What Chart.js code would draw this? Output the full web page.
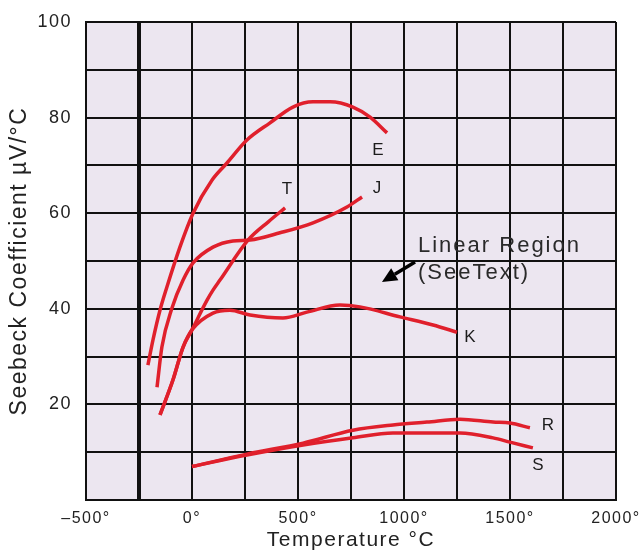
<!DOCTYPE html>
<html>
<head>
<meta charset="utf-8">
<script src="https://cdn.jsdelivr.net/npm/chart.js@4.4.0/dist/chart.umd.min.js"></script>
<style>
  html, body { margin: 0; padding: 0; background: #fff; }
</style>
</head>
<body>
<canvas id="seebeck" width="643" height="553"></canvas>
<script>
// values: temperature (°C) vs Seebeck coefficient (µV/°C)
const eTemp = [-208, -184, -151, -118, -57, 5, 94, 165, 259, 368, 476, 571, 651, 759, 840, 920];
const eCoef = [28.2, 33.5, 39.7, 44.6, 52.9, 60.0, 66.9, 70.5, 75.3, 78.9, 82.2, 83.3, 83.3, 82.2, 80.1, 76.8];

const jTemp = [-165, -142, -94, -42, 5, 99, 193, 274, 415, 571, 731, 802];
const jCoef = [23.6, 32.0, 40.2, 46.0, 49.6, 52.9, 54.2, 54.4, 55.9, 58.0, 61.3, 63.4];

const tTemp = [-151, -90, -42, 0, 71, 99, 132, 265, 360, 439];
const tCoef = [17.8, 25.1, 32.0, 35.6, 41.8, 43.9, 46.0, 54.4, 58.2, 61.1];

const kTemp = [-151, -90, -42, 0, 99, 179, 274, 429, 542, 698, 792, 981, 1137, 1250];
const kCoef = [17.8, 25.1, 32.0, 35.6, 39.1, 39.7, 38.7, 38.1, 39.3, 40.8, 40.4, 38.3, 36.6, 35.1];

const rTemp = [0, 259, 524, 759, 948, 1108, 1264, 1420, 1500, 1594];
const rCoef = [7.0, 9.6, 11.9, 14.6, 15.7, 16.3, 16.9, 16.3, 16.1, 15.1];

const sTemp = [0, 259, 524, 759, 948, 1108, 1264, 1420, 1500, 1608];
const sCoef = [7.0, 9.4, 11.5, 13.0, 14.0, 14.0, 14.0, 13.0, 12.1, 10.9];

// curve names, placed in data units next to each curve end
const curveNames = [
    { text: 'E', x: 877, y: 73.2 },
    { text: 'T', x: 448, y: 64.9 },
    { text: 'J', x: 873, y: 65.3 },
    { text: 'K', x: 1311, y: 34.1 },
    { text: 'R', x: 1679, y: 15.7 },
    { text: 'S', x: 1632, y: 7.3 },
];
const noteLines = ['Linear Region', '(SeeText)'];

const red = '#e0202c';

function toPoints(temps, coefs) {
    return temps.map((t, i) => ({ x: t, y: coefs[i] }));
}

function curve(temps, coefs) {
    return {
        data: toPoints(temps, coefs),
        showLine: true,
        borderColor: red,
        backgroundColor: red,
        borderWidth: 3.5,
        pointRadius: 0,
        cubicInterpolationMode: 'monotone',
    };
}

// wider letters, the original type looks stretched
const spacingPlugin = {
    id: 'spacing',
    beforeUpdate(chart) { chart.ctx.letterSpacing = '1.5px'; },
    beforeLayout(chart) { chart.ctx.letterSpacing = '1.5px'; },
    beforeDraw(chart) {
        const { ctx, chartArea: a } = chart;
        ctx.letterSpacing = '1.5px';
        ctx.save();
        ctx.fillStyle = '#ece6f0';
        ctx.fillRect(a.left, a.top, a.right - a.left, a.bottom - a.top);
        ctx.restore();
    },
};

const labelPlugin = {
    id: 'curveLabels',
    afterDatasetsDraw(chart) {
        const { ctx, scales: { x, y } } = chart;
        ctx.save();
        ctx.fillStyle = '#1c1c1c';
        ctx.textAlign = 'center';
        ctx.textBaseline = 'middle';
        ctx.letterSpacing = '0px';
        ctx.font = '17px "Liberation Sans", Arial, sans-serif';
        curveNames.forEach(l => ctx.fillText(l.text, x.getPixelForValue(l.x), y.getPixelForValue(l.y)));

        // note about the linear region
        ctx.textAlign = 'left';
        ctx.font = '22px "Liberation Sans", Arial, sans-serif';
        ctx.letterSpacing = '2px';
        ctx.fillStyle = '#2a2a2a';
        ctx.fillText(noteLines[0], x.getPixelForValue(1066), y.getPixelForValue(53.1));
        ctx.fillText(noteLines[1], x.getPixelForValue(1066), y.getPixelForValue(47.5));

        // arrow pointing down-left
        const tx = x.getPixelForValue(1052), ty = y.getPixelForValue(49.8);
        const hx = x.getPixelForValue(896), hy = y.getPixelForValue(45.6);
        const ang = Math.atan2(hy - ty, hx - tx);
        const len = 15, half = 7;
        const bx = hx - len * Math.cos(ang), by = hy - len * Math.sin(ang);
        ctx.strokeStyle = '#000';
        ctx.fillStyle = '#000';
        ctx.lineWidth = 3.5;
        ctx.beginPath();
        ctx.moveTo(tx, ty);
        ctx.lineTo(bx, by);
        ctx.stroke();
        ctx.beginPath();
        ctx.moveTo(hx, hy);
        ctx.lineTo(bx + half * Math.sin(ang), by - half * Math.cos(ang));
        ctx.lineTo(bx - half * Math.sin(ang), by + half * Math.cos(ang));
        ctx.closePath();
        ctx.fill();
        ctx.restore();
    },
};

const font = '"Liberation Sans", Arial, sans-serif';

new Chart(document.getElementById('seebeck'), {
    type: 'scatter',
    data: {
        datasets: [
            curve(eTemp, eCoef),
            curve(jTemp, jCoef),
            curve(tTemp, tCoef),
            curve(kTemp, kCoef),
            curve(rTemp, rCoef),
            curve(sTemp, sCoef),
        ],
    },
    plugins: [spacingPlugin, labelPlugin],
    options: {
        responsive: false,
        animation: false,
        layout: { padding: { left: 2, top: 22, right: 27, bottom: 0 } },
        plugins: {
            legend: { display: false },
            tooltip: { enabled: false },
        },
        scales: {
            x: {
                type: 'linear',
                min: -500,
                max: 2000,
                afterFit: s => {
                    s.height = 53;
                    s.paddingLeft = 0;
                    s.paddingRight = 0;
                },
                border: { display: true, color: '#111', width: 2 },
                grid: {
                    color: '#111',
                    drawTicks: false,
                    lineWidth: c => (c.tick && c.tick.value === -250 ? 4 : 2),
                },
                ticks: {
                    stepSize: 250,
                    autoSkip: false,
                    maxRotation: 0,
                    padding: 9,
                    color: '#222',
                    font: { family: font, size: 16 },
                    callback: v => (v % 500 === 0 ? (v < 0 ? '–' : '') + Math.abs(v) + '°' : ''),
                },
                title: {
                    display: true,
                    text: 'Temperature °C',
                    color: '#222',
                    font: { family: font, size: 21 },
                    padding: { top: 0, bottom: 0 },
                },
            },
            y: {
                type: 'linear',
                min: 0,
                max: 100,
                afterFit: s => {
                    s.width = 84;
                    s.paddingTop = 0;
                    s.paddingBottom = 0;
                },
                border: { display: true, color: '#111', width: 2 },
                grid: { color: '#111', drawTicks: false, lineWidth: 2 },
                ticks: {
                    stepSize: 10,
                    autoSkip: false,
                    padding: 14,
                    color: '#222',
                    font: { family: font, size: 18 },
                    callback: v => (v % 20 === 0 && v > 0 ? v : ''),
                },
                title: {
                    display: true,
                    text: 'Seebeck Coefficient µV/°C',
                    color: '#222',
                    font: { family: font, size: 23 },
                    padding: { top: 4, bottom: 0 },
                },
            },
        },
    },
});
</script>
</body>
</html>
